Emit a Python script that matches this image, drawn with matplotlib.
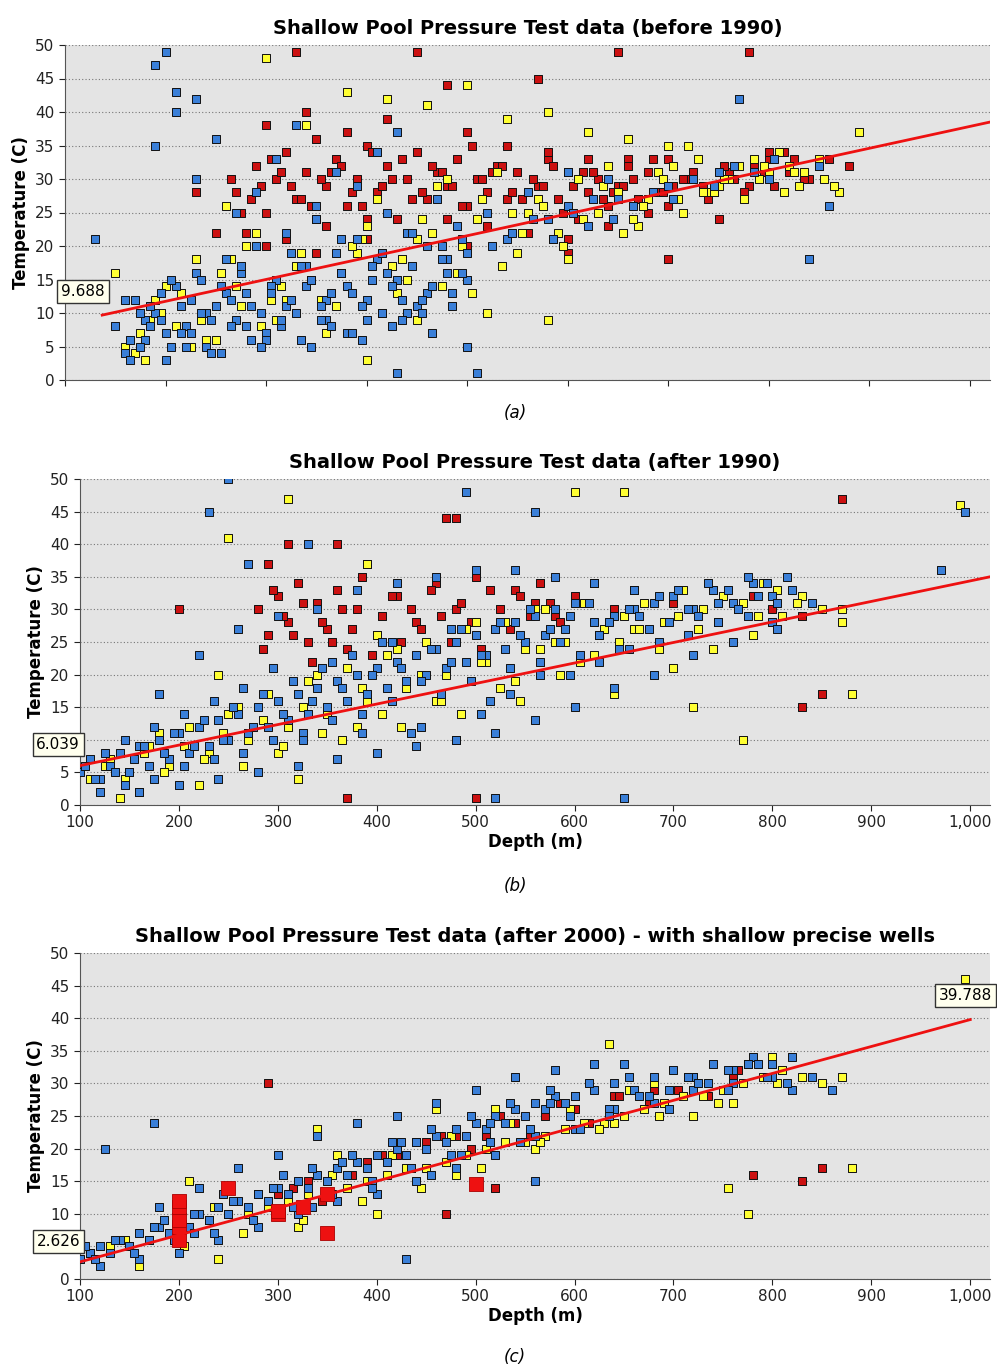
import matplotlib
matplotlib.use("Agg")
import matplotlib.pyplot as plt
from matplotlib.ticker import FuncFormatter

# ---------------- data ----------------
a_red_x = [270,290,300,310,320,330,340,350,360,370,380,390,400,410,420,430,440,450,460,470,480,490,500,510,520,530,540,550,560,570,580,590,600,610,620,630,640,650,660,670,680,690,700,720,740,760,780,800,820,840,860,880,
           280,300,320,340,360,380,400,420,440,460,480,500,520,540,560,580,600,620,640,660,680,700,750,800,850,330,450,480,570,650,780,230,250,300,350,400,500,600,700,
           265,285,305,325,345,365,385,405,425,445,465,485,505,525,545,565,585,605,625,645,665,685,705,725,745,765,785,805,825,
           275,295,315,335,355,375,395,415,435,455,475,495,515,535,555,575,595,615,635,655,675,695,715,735,755,775,795,815,835]
a_red_y = [28,32,25,30,34,27,31,36,29,33,26,30,35,28,32,24,30,34,27,31,29,33,26,30,28,32,27,31,25,29,33,27,31,24,28,30,26,29,33,27,31,28,26,30,27,31,29,33,31,30,33,32,
           22,38,21,40,23,37,24,39,22,41,24,37,23,35,22,34,21,33,23,32,25,33,24,34,32,49,49,44,45,49,49,28,22,20,19,21,20,19,18,
           30,27,33,29,26,31,28,34,30,27,32,29,35,31,28,30,32,29,31,28,30,33,29,31,28,30,32,29,33,
           25,29,31,27,30,32,26,29,33,28,31,26,30,32,27,29,25,31,27,29,26,28,30,29,32,28,31,34,30]
a_yel_x = [150,170,190,210,230,250,270,290,310,330,350,370,390,410,430,450,470,490,510,530,550,570,590,610,630,650,670,690,710,730,750,770,790,810,830,850,870,890,
           160,200,240,280,320,360,400,440,480,520,560,600,640,680,720,760,800,180,260,340,420,500,580,660,740,820,300,380,460,540,620,700,400,450,520,580,
           175,195,215,235,255,275,295,315,335,355,375,395,415,435,455,475,495,515,535,555,575,595,615,635,655,675,695,715,735,755,775,795,815,835,855,
           185,225,265,305,345,385,425,465,505,545,585,625,665,705,745,785,825,865]
a_yel_y = [16,4,12,8,18,6,14,22,9,17,24,11,19,27,13,21,29,16,24,31,19,27,22,30,25,28,23,31,27,33,29,32,30,34,29,33,28,37,
           5,14,6,20,12,7,23,15,30,10,25,18,32,27,35,30,31,3,26,38,42,44,40,36,28,32,48,43,41,39,37,35,3,9,10,9,
           7,10,13,9,16,11,8,14,19,12,16,21,10,18,24,14,20,27,17,22,26,20,24,29,22,26,30,25,28,30,27,32,28,31,30,
           9,5,18,12,15,20,17,22,13,25,21,27,24,32,28,33,31,29]
a_blu_x = [130,150,160,170,180,190,200,210,220,230,240,250,260,270,280,290,300,310,320,330,340,350,360,370,380,390,400,410,420,430,440,450,460,470,480,490,500,520,540,560,580,600,620,650,700,750,800,850,
           160,180,200,220,240,260,280,300,320,340,360,380,400,420,440,460,480,500,190,210,230,250,270,290,310,330,350,370,390,410,430,190,200,210,230,600,640,770,840,860,430,500,510,
           165,175,185,195,205,215,225,235,245,255,265,275,285,295,305,315,325,335,345,355,365,375,385,395,405,415,425,435,445,455,465,475,485,495,
           165,175,185,195,205,215,225,235,245,255,265,275,285,295,305,315,325,335,345,355,365,375,385,395,405,415,425,435,445,455,465,475,485,495,
           525,545,565,585,605,625,645,665,685,705,725,745,765,785,805]
a_blu_y = [21,8,4,12,6,10,3,14,8,16,5,11,18,9,13,20,7,15,22,10,17,24,12,19,14,21,9,18,25,15,22,11,20,27,16,23,19,25,21,28,24,26,23,27,29,31,30,32,
           12,9,7,5,10,13,8,6,11,14,9,7,12,16,10,13,18,15,35,40,30,36,25,28,33,38,26,31,29,34,37,47,49,43,42,31,30,42,18,26,1,5,1,
           6,10,8,13,5,11,7,15,9,4,12,16,6,10,14,8,12,17,5,9,13,16,7,11,15,19,8,12,17,10,14,20,11,16,
           3,5,11,9,15,7,12,10,4,14,8,17,11,5,13,9,19,6,15,11,8,21,13,6,17,10,14,9,22,12,7,18,13,21,
           20,22,24,21,25,27,24,26,28,27,30,29,32,31,33]

b_red_x = [280,290,300,310,320,330,340,350,360,370,380,390,400,420,440,460,480,500,520,540,560,580,600,620,640,660,700,740,780,800,830,200,470,480,500,370,360,830,850,870,310,290,
           285,295,305,315,325,335,345,355,365,375,385,395,405,415,425,435,445,455,465,475,485,495,505,515,525,535,545,555,565,575,585]
b_red_y = [30,26,32,28,34,25,31,27,33,24,30,37,26,32,28,34,30,35,27,33,31,29,32,34,30,33,31,33,32,30,29,30,44,44,1,1,40,15,17,47,40,37,
           24,33,29,26,31,22,28,25,30,27,35,23,29,32,25,30,27,33,29,25,31,28,24,33,30,27,32,29,34,31,28]
b_yel_x = [110,130,150,170,190,210,230,250,270,290,310,330,350,370,390,410,430,450,470,490,510,530,550,570,590,610,630,650,670,690,710,730,750,770,790,810,830,850,870,880,
           140,180,220,260,300,340,380,420,460,500,540,580,620,660,700,740,780,160,240,320,400,480,560,640,720,250,310,390,600,650,770,870,990,
           125,145,165,185,205,225,245,265,285,305,325,345,365,385,405,425,445,465,485,505,525,545,565,585,605,625,645,665,685,705,725,745,765,785,805,825]
b_yel_y = [4,7,5,9,6,12,8,14,10,17,12,19,14,21,16,23,18,25,20,27,22,28,24,30,25,31,27,29,31,28,33,30,32,31,34,29,32,30,28,17,
           1,11,3,15,8,20,12,24,16,28,19,25,23,27,21,24,26,2,20,4,26,10,30,17,15,41,47,37,48,48,10,30,46,
           6,4,8,5,9,7,11,6,13,9,15,11,10,18,14,12,20,16,14,22,18,16,24,20,22,26,25,27,24,29,27,28,30,29,33,31]
b_blu_x = [100,110,120,130,140,150,160,170,180,190,200,210,220,230,240,250,260,270,280,290,300,310,320,330,340,350,360,370,380,390,400,410,420,430,440,450,460,470,480,490,500,510,520,530,540,550,560,570,580,590,600,620,640,660,680,700,720,740,760,780,800,820,840,
           120,160,200,240,280,320,360,400,440,480,520,560,600,640,680,720,760,800,180,220,260,300,340,380,420,460,500,540,580,620,660,230,250,270,330,490,520,560,650,970,995,
           105,115,125,135,145,155,165,175,185,195,205,215,225,235,245,255,265,275,285,295,305,315,325,335,345,355,365,375,385,395,405,415,425,435,445,455,465,475,485,495,505,515,525,535,545,555,565,575,585,595,605,615,625,635,645,655,665,675,685,695,705,715,725,735,745,755,765,775,785,795,805,815,
           145,175,205,235,265,295,325,355,385,415,445,475,505,535,565,595,625,655,685,715,745,775,805]
b_blu_y = [5,7,4,6,8,5,9,6,10,7,11,8,12,9,13,10,14,11,15,12,16,13,17,14,18,15,19,16,20,17,21,18,22,19,23,20,24,21,25,22,26,23,27,24,28,25,29,26,30,27,31,28,29,30,31,32,30,33,31,34,32,33,31,
           2,2,3,4,5,6,7,8,9,10,11,13,15,18,20,23,25,28,17,23,27,29,30,33,34,35,36,36,35,34,33,45,50,37,40,48,1,45,1,36,45,
           6,4,8,5,3,7,9,4,8,11,6,9,13,7,10,15,8,12,17,10,14,19,11,16,21,13,18,23,14,20,25,16,21,11,19,24,17,22,27,19,23,16,28,21,26,30,22,27,25,29,23,31,26,28,24,30,29,27,32,28,33,30,29,34,31,33,30,35,32,34,31,35,
           10,12,14,16,18,21,10,22,11,25,12,27,14,17,20,20,22,24,25,26,28,29,27]

c_red_x = [300,330,360,390,420,450,480,510,540,570,600,640,680,720,760,800,290,780,830,850,470,520,
           315,345,375,405,435,465,495,525,555,585,615,645,675,705,735,765,795]
c_red_y = [13,15,17,18,19,21,22,22,24,25,26,28,29,31,31,33,30,16,15,17,10,14,
           14,12,16,19,17,22,20,25,22,27,24,28,27,29,28,32,31]
c_yel_x = [110,130,150,170,190,210,230,250,270,290,310,330,350,370,390,410,430,450,470,490,510,530,550,570,590,610,630,650,670,690,710,730,750,770,790,810,830,850,870,880,
           160,200,240,280,320,360,400,440,480,520,560,600,640,680,720,760,800,210,340,460,635,775,755,995,
           145,175,205,235,265,295,325,355,385,415,445,475,505,535,565,595,625,655,685,715,745,775,805]
c_yel_y = [4,5,5,6,7,8,9,10,10,11,12,13,13,14,15,16,17,17,18,19,20,21,21,22,23,24,24,25,26,27,28,28,29,30,31,32,31,30,31,17,
           2,11,3,13,8,19,10,21,16,26,20,28,24,30,25,27,34,15,23,26,36,10,14,46,
           6,8,5,11,7,14,9,16,12,19,14,22,17,24,21,26,23,29,25,31,27,33,30]
c_blu_x = [100,110,120,130,140,150,160,170,180,190,200,210,220,230,240,250,260,270,280,290,300,310,320,330,340,350,360,370,380,390,400,410,420,430,440,450,460,470,480,490,500,510,520,530,540,550,560,570,580,590,600,620,640,660,680,700,720,740,760,780,800,820,840,
           120,160,200,240,280,320,360,400,440,480,520,560,600,640,680,720,760,800,180,220,260,300,340,380,420,460,500,540,580,620,650,125,175,430,560,820,860,
           105,115,135,155,175,195,215,235,255,275,295,315,335,355,375,395,415,435,455,475,495,515,535,555,575,595,615,635,655,675,695,715,735,755,775,795,815,
           185,215,245,275,305,335,365,395,425,455,485,515,545,575,605,635,665,695,725,755,785]
c_blu_y = [3,4,5,4,6,5,7,6,8,7,9,8,10,9,11,10,12,11,13,12,14,13,15,14,16,15,17,16,18,17,19,18,20,19,21,20,22,21,23,22,24,23,25,24,26,25,27,26,28,27,28,29,30,29,31,32,31,33,32,34,33,34,31,
           2,3,4,6,8,10,12,13,15,17,19,22,23,26,27,29,30,31,11,14,17,19,22,24,25,27,29,31,32,33,33,20,24,3,15,29,29,
           5,3,6,4,8,6,10,7,12,9,14,11,17,13,19,15,21,17,23,19,25,21,27,23,29,25,30,26,31,28,29,31,30,32,33,31,30,
           9,7,13,9,16,11,18,14,21,16,19,24,21,27,23,25,28,26,30,29,33]
c_big_x = [200,200,200,200,200,250,300,300,325,350,350,500]
c_big_y = [6,8,9,11,12,14,10,10.5,11,7,13,14.5]

lines = {  # (x0, y0, x1, y1)
    "a": (137, 9.688, 1020, 38.5),
    "b": (100, 6.039, 1020, 35.0),
    "c": (100, 2.626, 1000, 39.788),
}
titles = ["Shallow Pool Pressure Test data (before 1990)",
          "Shallow Pool Pressure Test data (after 1990)",
          "Shallow Pool Pressure Test data (after 2000) - with shallow precise wells"]
captions = ["a", "b", "c"]
xticks = [100, 200, 300, 400, 500, 600, 700, 800, 900, 1000]
yticks = [0, 5, 10, 15, 20, 25, 30, 35, 40, 45, 50]

RED, YEL, BLU = "#cc1111", "#ffff33", "#3a7fd8"
W, H = 997, 1367
fig = plt.figure(figsize=(W / 100, H / 100), dpi=100)

def ax_at(l, t, r, b):
    return fig.add_axes([l / W, 1 - b / H, (r - l) / W, (b - t) / H])

boxes = [(65, 45, 990, 380), (80, 479, 990, 805), (80, 953, 990, 1279)]
data = [
    [(a_red_x, a_red_y, RED), (a_yel_x, a_yel_y, YEL), (a_blu_x, a_blu_y, BLU)],
    [(b_red_x, b_red_y, RED), (b_yel_x, b_yel_y, YEL), (b_blu_x, b_blu_y, BLU)],
    [(c_red_x, c_red_y, RED), (c_yel_x, c_yel_y, YEL), (c_blu_x, c_blu_y, BLU)],
]
box_style = dict(boxstyle="square,pad=0.25", fc="#ffffee", ec="#333333")
fmt = FuncFormatter(lambda v, p: f"{int(v):,}")
for i, (box, series, key) in enumerate(zip(boxes, data, "abc")):
    ax = ax_at(*box)
    ax.set_facecolor("#e4e4e4")
    ax.set_xlim(100, 1020)
    ax.set_ylim(0, 50)
    ax.set_yticks(yticks)
    ax.set_xticks(xticks)
    ax.xaxis.set_major_formatter(fmt)
    ax.grid(axis="y", color="#777777", linestyle=(0, (1, 2)), linewidth=0.8)
    ax.set_axisbelow(True)
    for s in ["top", "right"]:
        ax.spines[s].set_visible(False)
    ax.spines["left"].set_color("#555555")
    ax.spines["bottom"].set_color("#555555")
    ax.tick_params(labelsize=11, colors="#222222", length=4)
    for xs, ys, c in series:
        ax.scatter(xs, ys, s=28, marker="s", c=c, edgecolors="#111111", linewidths=0.7, zorder=3)
    if key == "c":
        ax.scatter(c_big_x, c_big_y, s=90, marker="s", c="#ee1111", edgecolors="#aa0000", linewidths=0.6, zorder=4)
    x0, y0, x1, y1 = lines[key]
    ax.plot([x0, x1], [y0, y1], color="#ee1111", linewidth=2, zorder=5)
    ax.set_ylabel("Temperature (C)", fontsize=12, fontweight="bold")
    ax.set_title(titles[i], fontsize=14, fontweight="bold", pad=8)
    if key == "a":
        ax.set_xticklabels([])
        ax.text(118, 13.2, "9.688", fontsize=11, ha="center", va="center", bbox=box_style, zorder=6)
    else:
        ax.set_xlabel("Depth (m)", fontsize=12, fontweight="bold", labelpad=2)
    if key == "b":
        ax.text(78, 9.3, "6.039", fontsize=11, ha="center", va="center", bbox=box_style, zorder=6, clip_on=False)
    if key == "c":
        ax.text(78, 5.8, "2.626", fontsize=11, ha="center", va="center", bbox=box_style, zorder=6, clip_on=False)
        ax.text(995, 43.5, "39.788", fontsize=11, ha="center", va="center", bbox=box_style, zorder=6, clip_on=False)
    cap_y = [413, 886, 1357][i]
    fig.text(515 / W, 1 - cap_y / H, f"({captions[i]})", fontsize=12, style="italic", ha="center", va="center")

fig.savefig("out.png", dpi=100)
